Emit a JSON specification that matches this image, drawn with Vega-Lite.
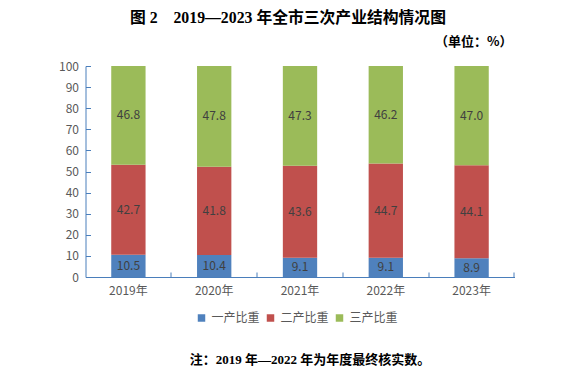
{
  "$schema": "https://vega.github.io/schema/vega-lite/v6.json",
  "width": 429,
  "height": 211,
  "autosize": "none",
  "padding": {"left": 85.5, "top": 66, "right": 67.5, "bottom": 99},
  "background": "white",
  "title": {
    "text": "图 2　2019—2023 年全市三次产业结构情况图",
    "anchor": "start",
    "frame": "group",
    "dx": 44.5,
    "offset": 8,
    "font": "Liberation Serif, Noto Sans CJK SC",
    "fontSize": 15.8,
    "fontWeight": "bold",
    "color": "#000000"
  },
  "config": {
    "view": {"stroke": null},
    "axis": {"grid": false}
  },
  "data": {
    "values": [
      {"year": "2019年", "type": "一产比重", "k": 1, "value": 10.5},
      {"year": "2019年", "type": "二产比重", "k": 2, "value": 42.7},
      {"year": "2019年", "type": "三产比重", "k": 3, "value": 46.8},
      {"year": "2020年", "type": "一产比重", "k": 1, "value": 10.4},
      {"year": "2020年", "type": "二产比重", "k": 2, "value": 41.8},
      {"year": "2020年", "type": "三产比重", "k": 3, "value": 47.8},
      {"year": "2021年", "type": "一产比重", "k": 1, "value": 9.1},
      {"year": "2021年", "type": "二产比重", "k": 2, "value": 43.6},
      {"year": "2021年", "type": "三产比重", "k": 3, "value": 47.3},
      {"year": "2022年", "type": "一产比重", "k": 1, "value": 9.1},
      {"year": "2022年", "type": "二产比重", "k": 2, "value": 44.7},
      {"year": "2022年", "type": "三产比重", "k": 3, "value": 46.2},
      {"year": "2023年", "type": "一产比重", "k": 1, "value": 8.9},
      {"year": "2023年", "type": "二产比重", "k": 2, "value": 44.1},
      {"year": "2023年", "type": "三产比重", "k": 3, "value": 47.0}
    ]
  },
  "resolve": {"axis": {"x": "independent", "y": "independent"}},
  "layer": [
    {
      "mark": {"type": "bar"},
      "encoding": {
        "x": {
          "field": "year",
          "type": "nominal",
          "scale": {"paddingInner": 0.6, "paddingOuter": 0.3},
          "axis": {
            "orient": "bottom",
            "labelAngle": 0,
            "labelFontSize": 12,
            "labelColor": "#595959",
            "labelFont": "Noto Sans CJK SC",
            "labelPadding": 8,
            "ticks": false,
            "domainColor": "#4A7EBB",
            "domainWidth": 1,
            "title": "注：2019 年—2022 年为年度最终核实数。",
            "titleFont": "Liberation Serif, Noto Sans CJK SC",
            "titleFontSize": 13,
            "titleFontWeight": "bold",
            "titleColor": "#000000",
            "titleX": 224,
            "titleY": 82,
            "titleAlign": "center",
            "titleBaseline": "middle"
          }
        },
        "y": {
          "field": "value",
          "type": "quantitative",
          "stack": "zero",
          "scale": {"domain": [0, 100]},
          "axis": {
            "orient": "left",
            "values": [0, 10, 20, 30, 40, 50, 60, 70, 80, 90, 100],
            "labelOverlap": false,
            "labelFontSize": 12,
            "labelColor": "#595959",
            "labelFont": "Noto Sans CJK SC",
            "labelPadding": 12,
            "tickSize": -5,
            "tickColor": "#4A7EBB",
            "domainColor": "#4A7EBB",
            "title": "（单位：%）",
            "titleFont": "Noto Sans CJK SC",
            "titleFontSize": 13,
            "titleFontWeight": "bold",
            "titleColor": "#000000",
            "titleAngle": 0,
            "titleX": 349,
            "titleY": -25,
            "titleAlign": "left",
            "titleBaseline": "middle"
          }
        },
        "order": {"field": "k", "type": "quantitative"},
        "color": {
          "field": "type",
          "type": "nominal",
          "sort": ["一产比重", "二产比重", "三产比重"],
          "scale": {
            "domain": ["一产比重", "二产比重", "三产比重"],
            "range": ["#4F81BD", "#C0504D", "#9BBB59"]
          },
          "legend": {
            "orient": "none",
            "legendX": 110,
            "legendY": 246,
            "direction": "horizontal",
            "title": null,
            "symbolType": "square",
            "symbolSize": 56,
            "symbolStrokeWidth": 0,
            "labelFontSize": 12,
            "labelFont": "Noto Sans CJK SC",
            "labelColor": "#595959",
            "labelOffset": 4,
            "columnPadding": 4
          }
        }
      }
    },
    {
      "mark": {"type": "text", "fontSize": 12, "font": "Noto Sans CJK SC", "color": "#404040", "baseline": "middle"},
      "encoding": {
        "x": {
          "field": "year",
          "type": "nominal",
          "axis": {
            "orient": "bottom",
            "bandPosition": 1.75,
            "labels": false,
            "domain": false,
            "ticks": true,
            "tickSize": -5,
            "tickColor": "#4A7EBB",
            "title": null
          }
        },
        "y": {"field": "value", "type": "quantitative", "stack": "zero", "bandPosition": 0.5, "axis": null},
        "order": {"field": "k", "type": "quantitative"},
        "text": {"field": "value", "type": "quantitative", "format": ".1f"}
      }
    }
  ]
}
